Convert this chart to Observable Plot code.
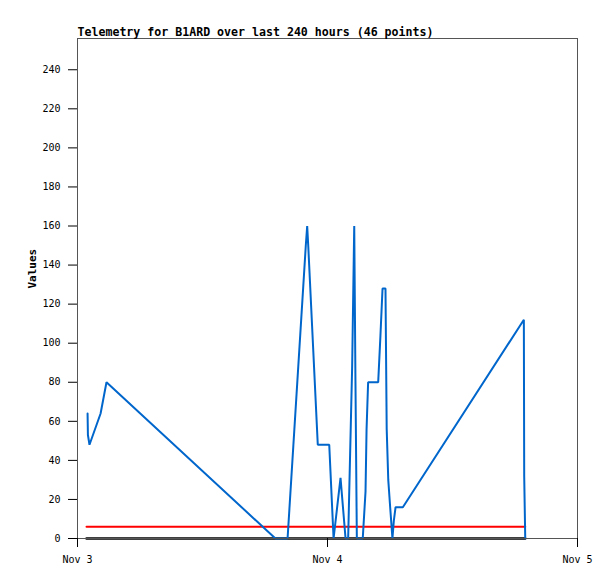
<!DOCTYPE html>
<html>
<head>
<meta charset="utf-8">
<script src="https://cdn.jsdelivr.net/npm/d3@7"></script>
<script src="https://cdn.jsdelivr.net/npm/@observablehq/plot@0.6"></script>
<style>
  html, body { margin: 0; padding: 0; background: #fff; }
</style>
</head>
<body>
<div id="chart"></div>
<script>
const titleText = "Telemetry for B1ARD over last 240 hours (46 points)";
const yLabel = "Values";

const blueTimes = [
  "2023-11-03T00:58Z", "2023-11-03T01:00Z", "2023-11-03T01:09Z", "2023-11-03T02:13Z",
  "2023-11-03T02:47Z", "2023-11-03T19:00Z", "2023-11-03T20:10Z", "2023-11-03T21:55Z",
  "2023-11-03T22:03Z", "2023-11-03T22:09Z", "2023-11-03T23:04Z", "2023-11-04T00:10Z",
  "2023-11-04T00:35Z", "2023-11-04T01:15Z", "2023-11-04T01:44Z", "2023-11-04T01:59Z",
  "2023-11-04T02:22Z", "2023-11-04T02:34Z", "2023-11-04T02:41Z", "2023-11-04T02:49Z",
  "2023-11-04T03:23Z", "2023-11-04T03:39Z", "2023-11-04T03:45Z", "2023-11-04T03:54Z",
  "2023-11-04T04:52Z", "2023-11-04T05:05Z", "2023-11-04T05:17Z", "2023-11-04T05:34Z",
  "2023-11-04T05:41Z", "2023-11-04T05:50Z", "2023-11-04T06:01Z", "2023-11-04T06:14Z",
  "2023-11-04T06:22Z", "2023-11-04T06:32Z", "2023-11-04T07:14Z", "2023-11-04T18:51Z",
  "2023-11-04T18:53Z", "2023-11-04T18:59Z"
];
const blueValues = [
  64, 53, 48, 64,
  80, 0, 0, 150,
  160, 150, 48, 48,
  0, 31, 0, 0,
  88, 160, 81, 0,
  0, 24, 56, 80,
  80, 104, 128, 128,
  56, 30, 16, 0,
  9, 16, 16, 112,
  32, 0
];

const refTimes = ["2023-11-03T00:52Z", "2023-11-04T18:59Z"];
const redValues = [6, 6];
const zeroValues = [0, 0];

const xDomain = ["2023-11-03T00:00Z", "2023-11-05T00:00Z"];
const xTicks = ["2023-11-03T00:00Z", "2023-11-04T00:00Z", "2023-11-05T00:00Z"];
const yDomain = [0, 256];
const yTicks = [0, 20, 40, 60, 80, 100, 120, 140, 160, 180, 200, 220, 240];

const blue = blueTimes.map((t, i) => ({t: new Date(t), v: blueValues[i]}));
const red = refTimes.map((t, i) => ({t: new Date(t), v: redValues[i]}));
const zero = refTimes.map((t, i) => ({t: new Date(t), v: zeroValues[i]}));

const fmt = d3.utcFormat("%b %-d");

const chart = Plot.plot({
  width: 615,
  height: 579,
  marginLeft: 77,
  marginRight: 38,
  marginTop: 38,
  marginBottom: 41,
  style: {fontFamily: "'DejaVu Sans Mono', monospace", fontSize: "10px", color: "#000", background: "#fff", overflow: "visible"},
  x: {type: "utc", domain: xDomain.map(d => new Date(d))},
  y: {domain: yDomain},
  marks: [
    Plot.line(zero, {x: "t", y: "v", stroke: "#000", strokeWidth: 2.5}),
    Plot.line(red, {x: "t", y: "v", stroke: "#ff0000", strokeWidth: 2}),
    Plot.line(blue, {x: "t", y: "v", stroke: "#0066cc", strokeWidth: 2, strokeLinejoin: "miter"}),
    Plot.frame({stroke: "#555"}),
    Plot.axisY({ticks: yTicks, tickSize: 9, tickPadding: 8, label: null, stroke: "#000"}),
    Plot.axisX({ticks: xTicks.map(d => new Date(d)), tickFormat: fmt, tickSize: 9, tickPadding: 8, label: null, stroke: "#000"}),
    Plot.text([yLabel], {frameAnchor: "left", text: d => d, rotate: -90, dx: -45, fontWeight: "bold", fontSize: 11}),
    Plot.text([titleText], {frameAnchor: "top-left", text: d => d, textAnchor: "start", lineAnchor: "bottom", dy: -3, fontWeight: "bold", fontSize: 11.6})
  ]
});

document.getElementById("chart").appendChild(chart);
</script>
</body>
</html>
